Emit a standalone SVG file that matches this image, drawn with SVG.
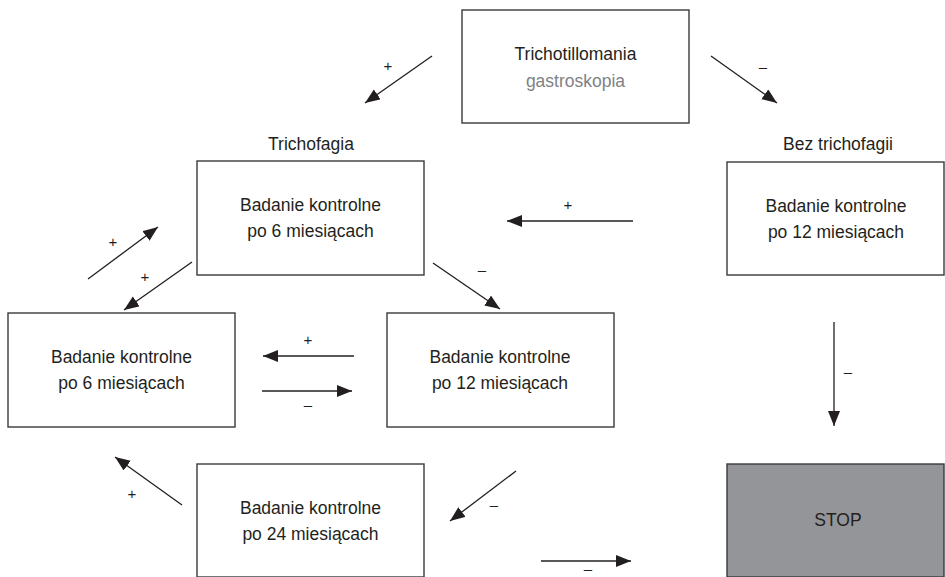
<svg xmlns="http://www.w3.org/2000/svg" width="945" height="577" viewBox="0 0 945 577">
<style>
.box{fill:#fff;stroke:#3a3a3a;stroke-width:1.4}
.stop{fill:#939598;stroke:#3a3a3a;stroke-width:1.4}
.t{font-family:"Liberation Sans",Arial,sans-serif;font-size:17.5px;fill:#231f20;text-anchor:middle}
.g{fill:#808285}
.lbl{font-family:"Liberation Sans",Arial,sans-serif;font-size:15px;fill:#231f20;text-anchor:middle}
.c line{stroke:#231f20;stroke-width:1.3;marker-end:url(#ah)}
</style>
<defs>
<marker id="ah" markerUnits="userSpaceOnUse" markerWidth="16" markerHeight="13" refX="15" refY="6" orient="auto">
<path d="M0,0 L15,6 L0,12 z" fill="#231f20"/>
</marker>
</defs>
<rect width="945" height="577" fill="#fff"/>

<g id="n-top">
<rect class="box" x="462" y="10" width="227" height="113"/>
<text class="t" x="575.5" y="60">Trichotillomania</text>
<text class="t g" x="575.5" y="87">gastroskopia</text>
</g>
<g id="lbl-trichofagia"><text class="t" x="311" y="150">Trichofagia</text></g>
<g id="lbl-bez"><text class="t" x="838" y="150">Bez trichofagii</text></g>

<g id="n-b6a">
<rect class="box" x="197" y="161" width="227" height="114"/>
<text class="t" x="310.5" y="211">Badanie kontrolne</text>
<text class="t" x="310.5" y="237">po 6 miesiącach</text>
</g>
<g id="n-r12">
<rect class="box" x="727" y="162" width="217" height="113"/>
<text class="t" x="836" y="212">Badanie kontrolne</text>
<text class="t" x="836" y="238">po 12 miesiącach</text>
</g>
<g id="n-l6">
<rect class="box" x="8" y="313" width="227" height="114"/>
<text class="t" x="121.5" y="363">Badanie kontrolne</text>
<text class="t" x="121.5" y="389">po 6 miesiącach</text>
</g>
<g id="n-m12">
<rect class="box" x="387" y="313" width="227" height="114"/>
<text class="t" x="500" y="363">Badanie kontrolne</text>
<text class="t" x="500" y="389">po 12 miesiącach</text>
</g>
<g id="n-b24">
<rect class="box" x="197" y="464" width="227" height="113"/>
<text class="t" x="310.5" y="514">Badanie kontrolne</text>
<text class="t" x="310.5" y="540">po 24 miesiącach</text>
</g>
<g id="n-stop">
<rect class="stop" x="727" y="464" width="217" height="113"/>
<text class="t" x="838" y="526">STOP</text>
</g>

<g id="connectors" class="c">
<line x1="432" y1="56" x2="365" y2="103"/>
<line x1="711" y1="56" x2="777" y2="103"/>
<line x1="633" y1="221" x2="507" y2="221"/>
<line x1="88" y1="279" x2="158" y2="227"/>
<line x1="192" y1="262" x2="124" y2="310"/>
<line x1="433" y1="263" x2="500" y2="309"/>
<line x1="354" y1="356" x2="263" y2="356"/>
<line x1="262" y1="391" x2="352" y2="391"/>
<line x1="834" y1="322" x2="834" y2="426"/>
<line x1="182" y1="505" x2="115" y2="457"/>
<line x1="516" y1="471" x2="450" y2="521"/>
<line x1="541" y1="561" x2="631" y2="561"/>
</g>
<g id="connector-labels" class="lbl">
<text x="388" y="71">+</text>
<text x="763" y="72">–</text>
<text x="568" y="210">+</text>
<text x="113" y="247">+</text>
<text x="145" y="282">+</text>
<text x="482" y="275">–</text>
<text x="308" y="345">+</text>
<text x="308" y="410">–</text>
<text x="848" y="377">–</text>
<text x="132" y="499">+</text>
<text x="494" y="510">–</text>
<text x="588" y="574">–</text>
</g>
</svg>
